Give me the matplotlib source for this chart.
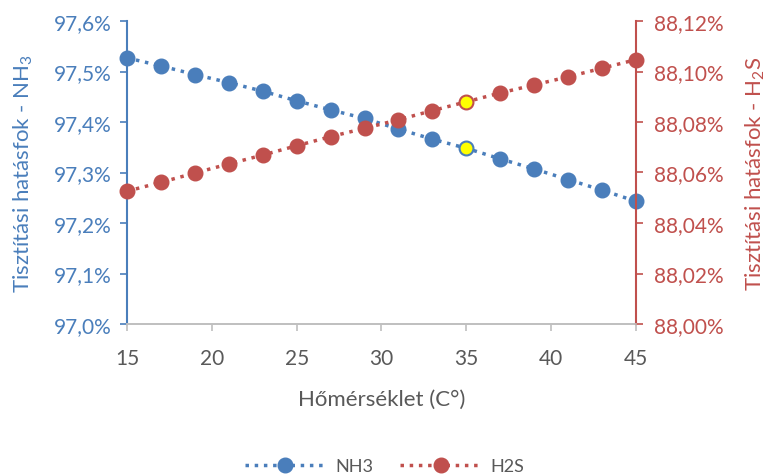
import matplotlib.pyplot as plt
from matplotlib.ticker import FuncFormatter
from matplotlib.lines import Line2D

plt.rcParams['font.family'] = ['Lato', 'DejaVu Sans']
plt.rcParams['mathtext.fontset'] = 'custom'
plt.rcParams['mathtext.rm'] = 'Lato'

# data
temperature = [15, 17, 19, 21, 23, 25, 27, 29, 31, 33, 35, 37, 39, 41, 43, 45]
nh3 = [97.527, 97.511, 97.494, 97.478, 97.461, 97.442, 97.424, 97.407,
       97.386, 97.366, 97.348, 97.327, 97.307, 97.286, 97.265, 97.243]
h2s = [88.0526, 88.0561, 88.0598, 88.0634, 88.0669, 88.0706, 88.0742, 88.0775,
       88.0809, 88.0845, 88.0880, 88.0915, 88.0947, 88.0979, 88.1013, 88.1047]
highlight_x = 35

blue = '#4a7ebb'
red = '#c0504d'
grey = '#595959'
msize = 10.5

fig = plt.figure(figsize=(7.69, 4.77), dpi=100)
ax = fig.add_axes([127/769, 1-325/477, (636-127)/769, (325-22)/477])
ax2 = ax.twinx()

ax.plot(temperature, nh3, color=blue, linestyle=':', linewidth=2.5,
        marker='o', markersize=msize, markerfacecolor=blue, markeredgecolor=blue,
        label='NH3', zorder=3, clip_on=False)
ax2.plot(temperature, h2s, color=red, linestyle=':', linewidth=2.5,
         marker='o', markersize=msize, markerfacecolor=red, markeredgecolor=red,
         label='H2S', zorder=3, clip_on=False)

# yellow highlighted points
i = temperature.index(highlight_x)
ax.plot([temperature[i]], [nh3[i]], marker='o', markersize=msize - 1, markerfacecolor='yellow',
        markeredgecolor=blue, markeredgewidth=1, linestyle='none', zorder=4)
ax2.plot([temperature[i]], [h2s[i]], marker='o', markersize=msize - 1, markerfacecolor='yellow',
         markeredgecolor=red, markeredgewidth=1, linestyle='none', zorder=4)

ax.set_xlim(15, 45)
ax.set_xticks([15, 20, 25, 30, 35, 40, 45])
ax.set_ylim(97.0, 97.6)
ax.set_yticks([97.0, 97.1, 97.2, 97.3, 97.4, 97.5, 97.6])
ax2.set_ylim(88.0, 88.12)
ax2.set_yticks([88.0, 88.02, 88.04, 88.06, 88.08, 88.10, 88.12])

ax.yaxis.set_major_formatter(FuncFormatter(lambda v, p: ('%.1f%%' % v).replace('.', ',')))
ax2.yaxis.set_major_formatter(FuncFormatter(lambda v, p: ('%.2f%%' % v).replace('.', ',')))

for a in (ax, ax2):
    a.spines['top'].set_visible(False)
    a.spines['bottom'].set_color('#bfbfbf')
    a.spines['bottom'].set_linewidth(1.2)
ax.spines['right'].set_visible(False)
ax2.spines['left'].set_visible(False)
ax.spines['left'].set_color(blue)
ax.spines['left'].set_linewidth(1.5)
ax2.spines['right'].set_color(red)
ax2.spines['right'].set_linewidth(1.5)

ax.tick_params(axis='x', colors='#bfbfbf', labelcolor=grey, labelsize=15, length=5, width=1.2, pad=12)
ax.tick_params(axis='y', colors=blue, labelcolor=blue, labelsize=15, length=5, width=1.2, pad=6)
ax2.tick_params(axis='y', colors=red, labelcolor=red, labelsize=15, length=5, width=1.2, pad=8)

ax.set_xlabel('Hőmérséklet (C°)', color=grey, fontsize=16, labelpad=15)
ax.set_ylabel('Tisztítási hatásfok - NH$_3$', color=blue, fontsize=16, labelpad=14)
ax2.set_ylabel('Tisztítási hatásfok - H$_2$S', color=red, fontsize=16, labelpad=14)

handles = [Line2D([], [], color=blue, linestyle=':', linewidth=2.5, marker='o', markersize=msize),
           Line2D([], [], color=red, linestyle=':', linewidth=2.5, marker='o', markersize=msize)]
fig.legend(handles, ['NH3', 'H2S'], loc='center', bbox_to_anchor=(0.5, 1-467/477),
           ncol=2, frameon=False, fontsize=13, labelcolor=grey, handlelength=4.5,
           handletextpad=0.5, columnspacing=1.5)

fig.savefig('out.png', dpi=100)
